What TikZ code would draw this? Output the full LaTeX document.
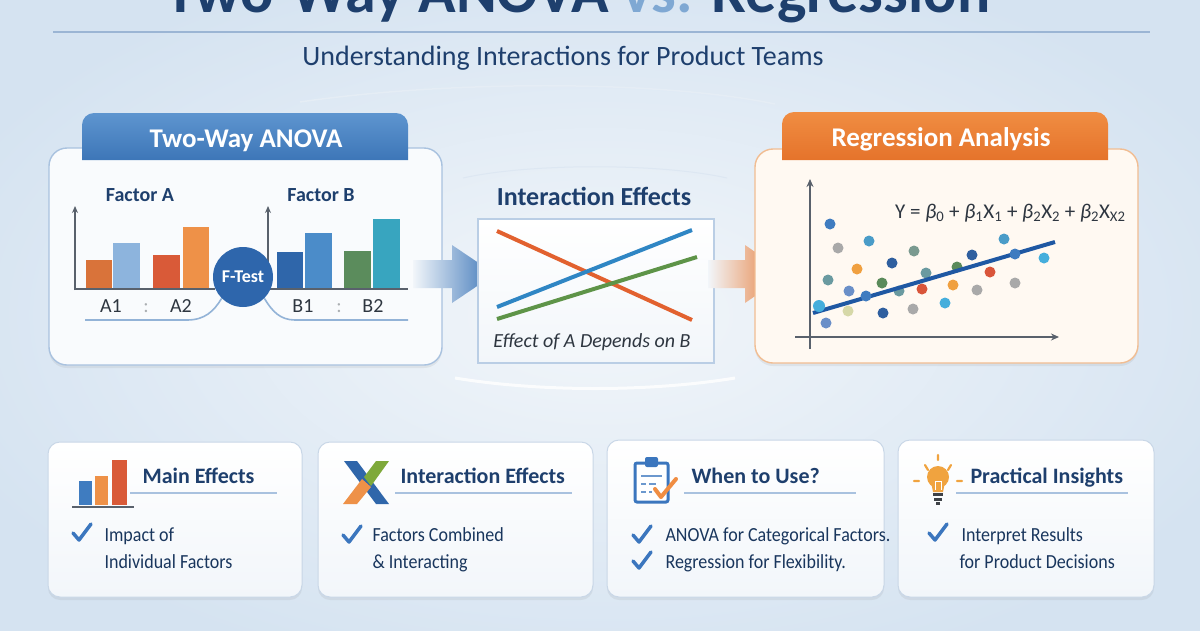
\documentclass[tikz,border=0pt]{standalone}
\usepackage{fontspec}
\setmainfont{Carlito}
\newfontfamily\condfont[FakeStretch=0.9]{Carlito}
\usetikzlibrary{positioning,arrows.meta,shadows,calc}

\definecolor{navy}{HTML}{1E3F6D}
\definecolor{vsblue}{HTML}{7FA8D3}
\definecolor{bgedge}{HTML}{D5E3F1}
\definecolor{bgmid}{HTML}{F2F6FA}
\definecolor{anovablue}{HTML}{3D76B8}
\definecolor{anovatop}{HTML}{5E95CF}
\definecolor{regorange}{HTML}{E5732B}
\definecolor{regtop}{HTML}{F08D42}
\definecolor{blueline}{HTML}{A9C2DF}
\definecolor{orangeline}{HTML}{F1BD92}
\definecolor{cream}{HTML}{FFF9F2}
\definecolor{axisgrey}{HTML}{59616C}
\definecolor{textgrey}{HTML}{2E3640}
\definecolor{barorange}{HTML}{D9733A}
\definecolor{barlight}{HTML}{8DB4DD}
\definecolor{barred}{HTML}{D95A38}
\definecolor{barpeach}{HTML}{EE9148}
\definecolor{bardark}{HTML}{2F66AA}
\definecolor{barmid}{HTML}{4B8CC9}
\definecolor{bargreen}{HTML}{5B8C5C}
\definecolor{barteal}{HTML}{38A5BF}
\definecolor{ftestblue}{HTML}{2E66AC}
\definecolor{lineorange}{HTML}{E2612F}
\definecolor{linegreen}{HTML}{5E9448}
\definecolor{lineblue}{HTML}{2F86C4}
\definecolor{regblue}{HTML}{1F58A3}
\definecolor{checkblue}{HTML}{3B76BE}
\definecolor{cardline}{HTML}{C9D7E7}
\definecolor{bulb}{HTML}{F0A33F}
\definecolor{basegrey}{HTML}{3E4247}
\definecolor{dotblue}{HTML}{3F7CC0}
\definecolor{dotgrey}{HTML}{A9A9A9}
\definecolor{dotteal}{HTML}{4A9CC8}
\definecolor{dotsage}{HTML}{7A9A90}
\definecolor{dotorange}{HTML}{F0A040}
\definecolor{dotnavy}{HTML}{2F5F9F}
\definecolor{dotslate}{HTML}{6A9AA0}
\definecolor{dotsky}{HTML}{6A8FC8}
\definecolor{dotgreen}{HTML}{5A8A5A}
\definecolor{dotred}{HTML}{D9553A}
\definecolor{dotcyan}{HTML}{45AEDC}
\definecolor{dotpale}{HTML}{D6D8A8}

\tikzset{
  panel/.style={draw=blueline, line width=1.4pt, rounded corners=18pt, fill=white!55!bgmid,
    inner sep=0pt, drop shadow={opacity=0.12, shadow xshift=0pt, shadow yshift=-3pt}},
  card/.style={draw=cardline, line width=1pt, rounded corners=12pt, top color=white,
    bottom color=bgmid, inner sep=0pt, drop shadow={opacity=0.12, shadow xshift=0pt, shadow yshift=-3pt}},
  tabtext/.style={font=\bfseries\fontsize{27}{30}\selectfont, text=white, anchor=base},
  factor/.style={font=\bfseries\fontsize{20}{24}\selectfont, text=navy, anchor=base},
  level/.style={font=\fontsize{20}{24}\selectfont, text=textgrey, anchor=base},
  cardtitle/.style={font=\bfseries\fontsize{22}{26}\selectfont, text=navy, anchor=base west},
  cardtext/.style={font=\condfont\fontsize{20}{24}\selectfont, text=navy!85!black, anchor=base west},
  rule/.style={draw=blueline, line width=1.5pt},
  axis/.style={draw=axisgrey, line width=1.6pt},
  railline/.style={draw=blueline!80!anovablue, line width=1.6pt},
  tick/.pic={\draw[checkblue, line width=3.5pt, line cap=round, line join=round] (0,0) -- (6,7) -- (18,-9);}
}

\begin{document}
\begin{tikzpicture}[x=1pt,y=-1pt]
\useasboundingbox (0,0) rectangle (1200,630);
\clip (0,0) rectangle (1200,630);
\shade[inner color=bgmid, outer color=bgedge] (-100,-60) rectangle (1300,690);

% title
\node[anchor=base, font=\bfseries\fontsize{62}{70}\selectfont, text=navy] (title) at (578,12)
  {Two-Way ANOVA \textcolor{vsblue}{vs.} Regression};
\draw[draw=blueline!90!navy, line width=1.8pt] (53,32) -- (1150,32);
\node[anchor=base, font=\fontsize{28}{32}\selectfont, text=navy] (subtitle) at (563,65)
  {Understanding Interactions for Product Teams};
\draw[white!70!blueline, line width=1.5pt] (300,102) .. controls (450,80) and (660,80) .. (775,104);
\draw[white!60!blueline, line width=1pt] (463,178) .. controls (530,163) and (660,163) .. (727,178);
\draw[white, line width=3pt, opacity=0.8] (455,378) .. controls (540,392) and (650,392) .. (735,378);

% two-way anova panel
\node[panel, minimum width=393, minimum height=217] (anova) at (245.5,256.5) {};
\shade[top color=anovatop, bottom color=anovablue] (82,160) [rounded corners=12pt] -- (82,113) -- (408,113) [sharp corners] -- (408,160) -- cycle;
\node[tabtext] (anovahead) at (246,147) {Two-Way ANOVA};

\node[factor] (factA) at (140,201) {Factor A};
\node[factor] (factB) at (321,201) {Factor B};

\fill[barorange] (86,260) rectangle (112,289);
\fill[barlight] (113,243) rectangle (140,289);
\fill[barred] (153,255) rectangle (180,289);
\fill[barpeach] (183,227) rectangle (209,289);
\fill[bardark] (277,252) rectangle (303,289);
\fill[barmid] (305,233) rectangle (332,289);
\fill[bargreen] (344,251) rectangle (371,289);
\fill[barteal] (373,219) rectangle (400,289);

\draw[axis, -{Stealth[length=7pt, width=6pt]}] (75,290) -- (75,206);
\draw[axis] (75,289) -- (215,289);
\draw[axis, -{Stealth[length=7pt, width=6pt]}] (268,290) -- (268,206);
\draw[axis] (268,289) -- (408,289);

\node[circle, fill=ftestblue, minimum size=60, inner sep=0pt, text=white,
  font=\bfseries\fontsize{18}{20}\selectfont] (ftest) at (243,277) {F-Test};

\node[level] (a1) at (111,312) {A1};
\node[level, text=textgrey!40] (asep) at (146,312) {:};
\node[level] (a2) at (181,312) {A2};
\node[level] (b1) at (303,312) {B1};
\node[level, text=textgrey!40] (bsep) at (339,312) {:};
\node[level] (b2) at (373,312) {B2};

\coordinate (railA) at (85,320);
\coordinate (railB) at (408,320);
\draw[railline] (railA) -- (187,320) .. controls (205,320) and (214,311) .. (ftest.south west);
\draw[railline] (ftest.south east) .. controls (272,311) and (280,320) .. (295,320) -- (railB);

% arrow into the middle
\coordinate (arrL) at (413,274);
\shade[left color=bgmid, right color=anovablue] (arrL) ++(0,-14) -- ++(39,0) -- ++(0,-15)
  -- ++(43,29) -- ++(-43,29) -- ++(0,-15) -- ++(-39,0) -- cycle;

% interaction effects
\node[anchor=base, font=\bfseries\fontsize{26}{30}\selectfont, text=navy] (inthead) at (594,205) {Interaction Effects};
\node[draw=blueline!80!white, line width=1.2pt, top color=white, bottom color=bgmid,
  minimum width=236, minimum height=144, inner sep=0pt] (effbox) at (596,291) {};
\draw[lineorange, line width=4pt] (497,231) -- (692,320);
\draw[lineblue, line width=4pt] (497,307) -- (692,230);
\draw[linegreen, line width=4pt] (497,319) -- (697,257);
\node[anchor=base, font=\itshape\fontsize{20}{24}\selectfont, text=textgrey] (effnote) at (592,347)
  {Effect of A Depends on B};

% arrow into regression
\coordinate (arrR) at (708,274);
\shade[left color=bgmid, right color=regorange] (arrR) ++(0,-14) -- ++(37,0) -- ++(0,-15)
  -- ++(42,29) -- ++(-42,29) -- ++(0,-15) -- ++(-37,0) -- cycle;

% regression panel
\node[panel, draw=orangeline, fill=cream, minimum width=383, minimum height=214] (regr) at (946.5,256) {};
\shade[top color=regtop, bottom color=regorange] (782,160) [rounded corners=12pt] -- (782,112) -- (1108,112) [sharp corners] -- (1108,160) -- cycle;
\node[tabtext] (reghead) at (941,146) {Regression Analysis};

\node[anchor=base west, font=\fontsize{21}{25}\selectfont, text=textgrey, inner sep=0pt] (eqn) at (895,218)
  {Y = \textit{β}\textsubscript{0} + \textit{β}\textsubscript{1}X\textsubscript{1} + \textit{β}\textsubscript{2}X\textsubscript{2} + \textit{β}\textsubscript{2}X\textsubscript{X2}};

\foreach \x/\y/\c in {830/224/dotblue, 838/248/dotgrey, 869/241/dotteal, 914/251/dotsage,
  857/269/dotorange, 892/263/dotnavy, 828/280/dotslate, 849/291/dotsky, 882/283/dotgreen,
  899/291/dotslate, 926/273/dotslate, 922/289/dotred, 826/323/dotsky, 848/311/dotpale,
  883/313/dotnavy, 913/309/dotgrey, 945/303/dotcyan, 953/285/dotorange, 957/267/dotgreen,
  972/255/dotnavy, 977/290/dotgrey, 990/272/dotred, 1004/239/dotteal, 1015/283/dotgrey,
  1044/258/dotcyan}
  \fill[\c] (\x,\y) circle (5.5);
\draw[axis, -{Stealth[length=8pt, width=7pt]}] (810,349) -- (810,179);
\draw[axis, -{Stealth[length=8pt, width=7pt]}] (795,337) -- (1059,337);
\draw[regblue, line width=4pt] (813,313) -- (1055,242);
\fill[dotcyan] (819,306) circle (6);
\fill[dotblue] (866,296) circle (5.5);
\fill[dotblue] (1015,254) circle (5.5);

% bottom cards
\node[card, minimum width=254, minimum height=155] (mainc) at (175,519.5) {};
\node[card, minimum width=275, minimum height=155] (interc) at (455.5,519.5) {};
\node[card, minimum width=277, minimum height=157] (whenc) at (745.5,518.5) {};
\node[card, minimum width=256, minimum height=157] (insightc) at (1026,518.5) {};

% main effects
\fill[dotblue] (79,481) rectangle (92,505);
\fill[barpeach] (95,476) rectangle (108,505);
\fill[barred] (112,460) rectangle (127,505);
\draw[axisgrey, line width=1.6pt] (72,507) -- (134,507);
\node[cardtitle] (maint) at (139,483) {Main Effects};
\draw[rule] (130,493) -- (277,493);
\pic at (73,533) {tick};
\node[cardtext] at (101,541) {Impact of};
\node[cardtext] at (101,568) {Individual Factors};

% interaction effects
\fill[bardark] (344,461) -- (357,461) -- (389,504) -- (376,504) -- cycle;
\fill[linegreen!80!yellow] (376,461) -- (389,461) -- (371,486) -- (364,477) -- cycle;
\fill[barpeach] (362,479) -- (371,487) -- (357,504) -- (343,504) -- cycle;
\node[cardtitle] (intert) at (397,483) {Interaction Effects};
\draw[rule] (395,493) -- (572,493);
\pic at (343,535) {tick};
\node[cardtext] at (369,541) {Factors Combined};
\node[cardtext] at (369,568) {\& Interacting};

% when to use
\draw[checkblue, line width=3pt, rounded corners=2pt, fill=white] (635,463) rectangle (668,502);
\fill[checkblue, rounded corners=2pt] (645,457) rectangle (658,467);
\draw[checkblue!75, line width=2.5pt] (641,476) -- (662,476);
\draw[checkblue!75, line width=2.5pt] (641,484) -- (646,484) (649,484) -- (656,484);
\draw[checkblue!75, line width=2.5pt] (641,492) -- (646,492) (649,492) -- (652,492);
\draw[regtop, line width=4pt, line cap=round, line join=round] (655,489) -- (661,497) -- (676,479);
\node[cardtitle] (whent) at (688,483) {When to Use?};
\draw[rule] (684,493) -- (856,493);
\pic at (633,535) {tick};
\pic at (633,561) {tick};
\node[cardtext] at (662,541) {ANOVA for Categorical Factors.};
\node[cardtext] at (662,568) {Regression for Flexibility.};

% practical insights
\draw[bulb, line width=2.2pt, line cap=round] (914,481) -- (919,481) (925,465) -- (928,470)
  (938,455) -- (938,460) (951,465) -- (948,470) (957,481) -- (962,481);
\fill[bulb] (938,477) circle (11);
\fill[bulb] (931,482) -- (945,482) -- (943,492) -- (933,492) -- cycle;
\draw[white, line width=1pt] (935,490) -- (935,481) -- (941,481) -- (941,490);
\fill[basegrey] (933,493) rectangle (943,496);
\fill[basegrey] (934,498) rectangle (942,501);
\fill[basegrey] (936,502) rectangle (940,505);
\node[cardtitle] (insightt) at (967,483) {Practical Insights};
\draw[rule] (956,493) -- (1128,493);
\pic at (929,533) {tick};
\node[cardtext] at (958,541) {Interpret Results};
\node[cardtext] at (956,568) {for Product Decisions};
\end{tikzpicture}
\end{document}
